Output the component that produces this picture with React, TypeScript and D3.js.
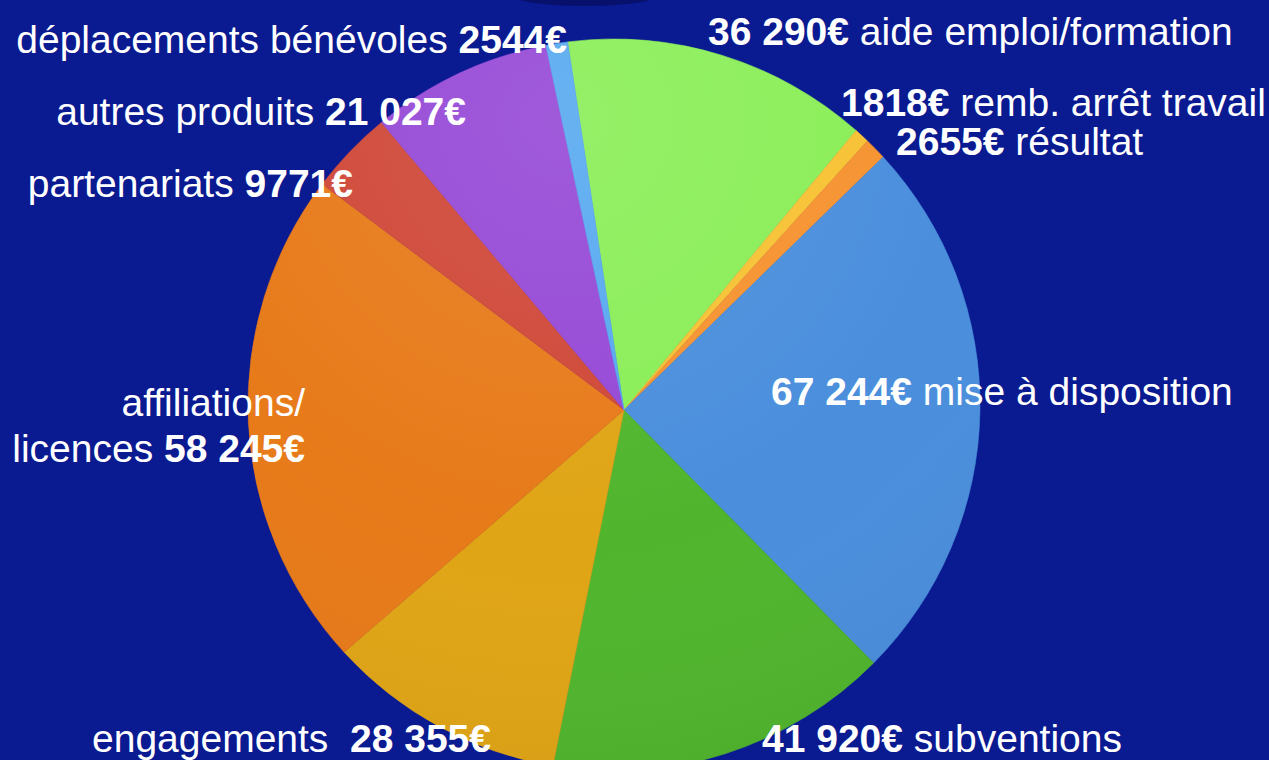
import { useRef, useEffect } from "react";
import * as d3 from "d3";

// data (clockwise from the top)
const categories = [
  "aide emploi/formation",
  "remb. arrêt travail",
  "résultat",
  "mise à disposition",
  "subventions",
  "engagements ",
  "affiliations/\nlicences",
  "partenariats",
  "autres produits",
  "déplacements bénévoles",
];
const values = [36290, 1818, 2655, 67244, 41920, 28355, 58245, 9771, 21027, 2544];
const colors = [
  "#8aee57",
  "#f7c233",
  "#f6922f",
  "#4a8edc",
  "#50b52d",
  "#e0a516",
  "#e77a19",
  "#cf4737",
  "#9548d6",
  "#57a9f0",
];

// where each label sits (baseline), and whether the amount comes first
const labelLayout = [
  { x: 708, y: 45, anchor: "start", valueFirst: true },
  { x: 841, y: 116, anchor: "start", valueFirst: true },
  { x: 896, y: 155, anchor: "start", valueFirst: true },
  { x: 771, y: 405, anchor: "start", valueFirst: true },
  { x: 762, y: 752, anchor: "start", valueFirst: true },
  { x: 491, y: 752, anchor: "end", valueFirst: false },
  { x: 305, y: 462, anchor: "end", valueFirst: false },
  { x: 353, y: 197, anchor: "end", valueFirst: false },
  { x: 466, y: 125, anchor: "end", valueFirst: false },
  { x: 567, y: 53, anchor: "end", valueFirst: false },
];

const W = 1269;
const H = 760;
const startDeg = -8.7;

const euro = (v: number) =>
  (v < 10000 ? String(v) : d3.format(",")(v).replace(/,/g, " ")) + "€";

const App = () => {
  const ref = useRef<HTMLDivElement | null>(null);

  useEffect(() => {
    const root = d3.select(ref.current);
    root.selectAll("*").remove();

    const svg = root
      .append("svg")
      .attr("width", W)
      .attr("height", H)
      .style("position", "absolute")
      .style("left", 0)
      .style("top", 0)
      .style("display", "block");

    svg.append("rect").attr("width", W).attr("height", H).attr("fill", "#0a1a91");

    // remains of the cut-off title at the very top
    svg
      .append("ellipse")
      .attr("cx", 585)
      .attr("cy", -3)
      .attr("rx", 68)
      .attr("ry", 9)
      .attr("fill", "#07106a");

    // the pie is seen slightly tilted: slices meet at the apex,
    // the rim is a circle whose centre sits a bit up-left of it
    const apex = { x: 624, y: 410 };
    const rim = { cx: 614, cy: 405, r: 366 };

    const rimPoint = (a: number) => {
      const dx = Math.sin(a);
      const dy = -Math.cos(a);
      const ox = apex.x - rim.cx;
      const oy = apex.y - rim.cy;
      const b = ox * dx + oy * dy;
      const c = ox * ox + oy * oy - rim.r * rim.r;
      const t = -b + Math.sqrt(b * b - c);
      return [apex.x + t * dx, apex.y + t * dy];
    };

    const slicePath = (a0: number, a1: number) => {
      const p0 = rimPoint(a0);
      const p1 = rimPoint(a1);
      const c0 = Math.atan2(p0[1] - rim.cy, p0[0] - rim.cx);
      let c1 = Math.atan2(p1[1] - rim.cy, p1[0] - rim.cx);
      if (c1 < c0) c1 += Math.PI * 2;
      const p = d3.path();
      p.moveTo(apex.x, apex.y);
      p.lineTo(p0[0], p0[1]);
      p.arc(rim.cx, rim.cy, rim.r, c0, c1, false);
      p.closePath();
      return p.toString();
    };

    const start = (startDeg * Math.PI) / 180;
    const pie = d3
      .pie<number>()
      .sort(null)
      .value((d) => d)
      .startAngle(start)
      .endAngle(start + Math.PI * 2);

    const arcs = pie(values);

    const defs = svg.append("defs");
    const shine = defs
      .append("radialGradient")
      .attr("id", "shine")
      .attr("gradientUnits", "userSpaceOnUse")
      .attr("cx", 560)
      .attr("cy", 120)
      .attr("r", 700);
    shine.append("stop").attr("offset", "0").attr("stop-color", "#fff").attr("stop-opacity", 0.1);
    shine.append("stop").attr("offset", "0.6").attr("stop-color", "#fff").attr("stop-opacity", 0);
    shine.append("stop").attr("offset", "1").attr("stop-color", "#000").attr("stop-opacity", 0.05);

    svg
      .append("g")
      .selectAll("path")
      .data(arcs)
      .enter()
      .append("path")
      .attr("d", (d) => slicePath(d.startAngle, d.endAngle))
      .attr("fill", (d, i) => colors[i])
      .attr("stroke", (d, i) => colors[i])
      .attr("stroke-width", 0.6);

    svg
      .append("circle")
      .attr("cx", rim.cx)
      .attr("cy", rim.cy)
      .attr("r", rim.r)
      .attr("fill", "url(#shine)");

    // labels
    const labels = svg
      .append("g")
      .attr("font-family", "'Liberation Sans', Arial, Helvetica, sans-serif")
      .attr("font-size", 39)
      .attr("fill", "#ffffff");

    categories.forEach((name, i) => {
      const pos = labelLayout[i];
      const lines = name.split("\n");
      const last = lines.pop() as string;

      // extra lines above the one holding the amount
      lines.forEach((line, k) => {
        labels
          .append("text")
          .attr("x", pos.x)
          .attr("y", pos.y - (lines.length - k) * 46)
          .attr("text-anchor", pos.anchor)
          .text(line);
      });

      const t = labels
        .append("text")
        .attr("x", pos.x)
        .attr("y", pos.y)
        .attr("text-anchor", pos.anchor)
        .style("white-space", "pre");

      if (pos.valueFirst) {
        t.append("tspan").attr("font-weight", "bold").text(euro(values[i]));
        t.append("tspan").text(" " + last);
      } else {
        t.append("tspan").text(last + " ");
        t.append("tspan").attr("font-weight", "bold").text(euro(values[i]));
      }
    });
  }, []);

  return <div ref={ref} />;
};

export default App;
